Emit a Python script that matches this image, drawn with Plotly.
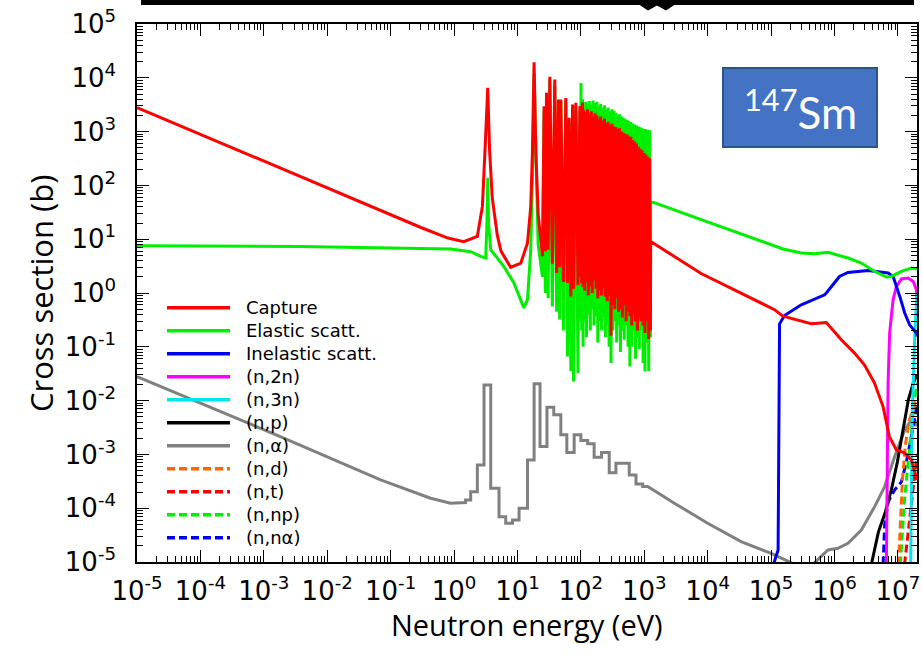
import plotly.graph_objects as go

# ---------------- cross-section data (energies in eV, cross sections in barns) ----------------
# Capture: thermal 1/v region and the two first resolved resonances
capture_low_E = [1e-5, 0.3, 0.8, 1.42, 2.33, 2.8, 3.08, 3.4, 3.63, 4.0, 4.8, 5.5, 7.8, 11.3, 14.4, 16.2, 17.2, 18.3, 19.5, 21.2]
capture_low_xs = [2800, 16.5, 10.5, 9.0, 11.3, 40.7, 462, 6500, 462, 60, 12, 6, 3.0, 3.6, 8.5, 40, 400, 19400, 400, 30]

# Elastic: thermal region and the two first resolved resonances
elastic_low_E = [1e-5, 3.78e-3, 0.88, 1.83, 2.63, 3.16, 3.3, 3.4, 3.5, 3.79, 6.08, 8.75, 12.6, 14.4, 16.2, 17.5, 18.3, 19.5, 21.2]
elastic_low_xs = [7.57, 7.35, 6.58, 5.85, 4.79, 4.47, 20, 139, 20, 6.38, 3.12, 1.55, 0.53, 0.75, 6.38, 300, 12000, 300, 8]

# Resolved-resonance forest: alternating valley / peak energies
forest_E = [24.8, 26.3, 27.5, 28.7, 30.5, 32.4, 35.5, 38.8, 41.5, 44.4, 46.3, 48.3, 53, 57.9, 61.5, 65.3,
            69.5, 74, 76.7, 83.4, 90, 96.4, 98.5, 100.5, 103, 106, 108.5, 111, 115, 119, 123, 127, 131, 136,
            141, 146, 151, 156, 161, 167, 173, 179, 185, 192, 198, 205, 212, 220, 228, 236, 244, 252, 261,
            270, 279, 289, 299, 310, 321, 332, 343, 355, 367, 380, 393, 407, 421, 436, 451, 467, 483, 500,
            517, 535, 554, 573, 593, 614, 635, 657, 680, 704, 729, 754, 780, 807, 835, 864, 894, 925, 958,
            991, 1026, 1061, 1098, 1136, 1175, 1216, 1250]
forest_capture = [4.8, 2960, 6, 5250, 6.4, 10400, 3.5, 9270, 2.35, 3940, 3.0, 3940, 1.6, 4230, 1.53, 1800,
                  0.86, 3180, 1.2, 3420, 1.4, 2960, 2.0, 3000, 1.5, 3470, 1.3, 2500, 1.1, 2300, 1.6, 2600, 0.9, 2100,
                  1.3, 2400, 1.0, 1900, 1.7, 2200, 1.2, 2000, 0.8, 1700, 1.1, 1900, 0.9, 1600, 1.2, 1750, 0.85, 1450, 0.7,
                  1500, 0.9, 1300, 0.16, 1400, 0.6, 1250, 0.5, 1200, 0.8, 1100, 0.45, 1150, 0.5, 1000, 0.35, 950, 0.6, 900,
                  0.3, 880, 0.45, 820, 0.37, 800, 0.25, 700, 0.4, 650, 0.3, 600, 0.2, 520, 0.35, 480, 0.3, 450, 0.25,
                  400, 0.18, 370, 0.3, 340, 0.14, 320, 0.2]
forest_elastic = [2.0, 2500, 1.0, 4000, 0.8, 9000, 0.56, 7000, 0.45, 3000, 0.32, 3500, 0.2, 3800, 0.066, 1500,
                  0.035, 2800, 0.0226, 3000, 0.0324, 2500, 0.3, 8000, 0.2, 4000, 0.1, 3000, 0.3, 3600, 0.15, 3300, 0.4, 3700,
                  0.2, 3200, 0.5, 3800, 0.25, 3400, 0.37, 3600, 0.12, 3000, 0.3, 3300, 0.2, 2800, 0.35, 3100, 0.15, 2600, 0.25,
                  2800, 0.1, 2400, 0.05, 2600, 0.2, 2450, 0.3, 2250, 0.12, 2000, 0.25, 2100, 0.08, 1900, 0.2, 1800, 0.135, 1700,
                  0.25, 1650, 0.1, 1550, 0.043, 1500, 0.1, 1400, 0.2, 1350, 0.06, 1300, 0.15, 1250, 0.09, 1200, 0.2, 1150, 0.05,
                  1120, 0.0347, 1100, 0.12, 1080, 0.035, 1060, 0.15]

# Unresolved / fast region
capture_fast_E = [1260, 7870, 2.64e4, 1.13e5, 1.54e5, 4.3e5, 7.43e5, 1.28e6, 2.05e6, 2.96e6, 4.26e6, 5.83e6,
                  7.34e6, 9.47e6, 1.27e7, 1.63e7, 2.0e7]
capture_fast_xs = [9.1, 2.3, 1.15, 0.49, 0.37, 0.268, 0.283, 0.135, 0.0773, 0.0462, 0.0214, 7.74e-3,
                   2.14e-3, 1.21e-3, 1.07e-3, 7.9e-4, 3.36e-4]
elastic_fast_E = [1260, 7870, 2.64e4, 1.28e5, 1.54e5, 2.99e5, 4.85e5, 7.9e5, 1.63e6, 2.65e6, 4.3e6, 6.58e6,
                  7.89e6, 1.135e7, 1.63e7, 2.0e7]
elastic_fast_xs = [50.5, 23.1, 14.0, 7.16, 6.58, 5.53, 5.37, 5.69, 4.47, 3.61, 2.52, 1.98, 2.03, 2.52, 2.91, 2.79]

inelastic_E = [1.09e5, 1.2e5, 1.29e5, 1.36e5, 1.63e5, 2.99e5, 6.98e5, 7.43e5, 1.2e6, 1.63e6, 3.38e6, 7.0e6,
               8.4e6, 1.07e7, 1.28e7, 1.53e7, 1.96e7, 2.0e7]
inelastic_xs = [9e-6, 1.35e-5, 1.67e-5, 0.267, 0.381, 0.604, 0.927, 1.0, 2.03, 2.41, 2.63, 2.35, 2.03, 0.863,
                0.424, 0.256, 0.18, 0.156]

n2n_E = [6.58e6, 6.82e6, 7.0e6, 7.41e6, 8.39e6, 9.46e6, 1.135e7, 1.45e7, 1.74e7, 1.96e7, 2.0e7]
n2n_xs = [9e-6, 1.21e-3, 0.0211, 0.182, 0.748, 1.32, 1.82, 1.9, 1.64, 1.15, 0.75]

n3n_E = [1.59e7, 1.68e7, 1.85e7, 2.0e7]
n3n_xs = [9e-6, 5.0e-3, 0.18, 1.0]

np_E = [3.81e6, 4.92e6, 6.34e6, 7.88e6, 9.8e6, 1.22e7, 1.46e7, 1.75e7, 2.0e7]
np_xs = [9e-6, 3.6e-5, 8.5e-5, 2.2e-4, 7.2e-4, 2.86e-3, 0.0103, 0.0214, 0.030]

# (n,alpha): smooth 1/v part, multigroup histogram, smooth fast part
alpha_low_E = [1e-5, 1.82e-3, 0.0695, 0.427, 0.88, 1.43]
alpha_low_xs = [0.028, 2.14e-3, 3.36e-4, 1.53e-4, 1.24e-4, 1.27e-4]
alpha_group_edges = [1.43, 1.52, 1.83, 2.33, 2.97, 3.79, 5.12, 6.53, 8.34, 10.6, 14.4, 18.3, 22.7, 29.2, 37.4,
                     48.3, 60.1, 78.4, 100, 128, 162, 212, 280, 357, 579, 740, 944, 1133]
alpha_group_xs = [1.27e-4, 1.42e-4, 2.03e-4, 6.38e-4, 0.0196, 2.35e-4, 6.97e-5, 5.25e-5, 6.04e-5, 9.98e-5,
                  7.9e-4, 0.0205, 1.4e-3, 7.55e-3, 5.43e-3, 2.31e-3, 1.08e-3, 2.31e-3, 1.81e-3, 1.57e-3,
                  8.87e-4, 1.08e-3, 4.58e-4, 6.86e-4, 4.16e-4, 2.83e-4, 2.52e-4]
alpha_fast_E = [1133, 2980, 1.0e4, 3.37e4, 1.0e5, 2.08e5, 3.0e5, 4.85e5, 7.9e5, 1.13e6, 1.63e6, 2.65e6, 4.3e6,
                6.18e6, 8.9e6, 1.28e7, 1.63e7, 1.85e7, 2.0e7]
alpha_fast_xs = [2.52e-4, 1.24e-4, 5.25e-5, 2.39e-5, 1.45e-5, 9.7e-6, 6e-6, 9.7e-6, 1.67e-5, 1.8e-5, 2.23e-5,
                 3.94e-5, 1.07e-4, 2.52e-4, 9.1e-4, 2.86e-3, 4.38e-3, 4.38e-3, 3.29e-3]

nd_E = [1.02e7, 1.1e7, 1.18e7, 1.31e7, 1.52e7, 1.82e7, 2.0e7]
nd_xs = [9e-6, 6.0e-5, 3.36e-4, 1.5e-3, 4.4e-3, 8.3e-3, 0.0103]

nt_E = [1.27e7, 1.52e7, 1.75e7, 2.0e7]
nt_xs = [9e-6, 6e-5, 2.19e-4, 9.8e-4]

nnp_E = [1.09e7, 1.27e7, 1.52e7, 1.75e7, 2.0e7]
nnp_xs = [9e-6, 1.42e-4, 1.21e-3, 6.7e-3, 0.0214]

nna_E = [5.84e6, 6.18e6, 7.0e6, 8.9e6, 1.135e7, 1.36e7, 1.63e7, 1.96e7, 2.0e7]
nna_xs = [9e-6, 4.9e-5, 1.3e-4, 2.19e-4, 3.08e-4, 7.24e-4, 2.14e-3, 6.73e-3, 8.3e-3]

reaction_names = ["Capture", "Elastic scatt.", "Inelastic scatt.", "(n,2n)", "(n,3n)", "(n,p)",
                  "(n,\u03b1)", "(n,d)", "(n,t)", "(n,np)", "(n,n\u03b1)"]
reaction_colors = ["#ff0000", "#00ee00", "#0000ee", "#ff00ff", "#00e5ee", "#000000",
                   "#808080", "#ff6600", "#ff0000", "#00ee00", "#0000ee"]
reaction_dashed = [False] * 7 + [True] * 4

decade_exponents_x = list(range(-5, 8))
decade_exponents_y = list(range(-5, 6))

# ---------------- assemble curves ----------------
assert len(forest_E) == len(forest_capture) == len(forest_elastic)
assert len(alpha_group_edges) == len(alpha_group_xs) + 1

capture_E = capture_low_E + forest_E + capture_fast_E
capture_xs = capture_low_xs + forest_capture + capture_fast_xs
elastic_E = elastic_low_E + forest_E + elastic_fast_E
elastic_xs = elastic_low_xs + forest_elastic + elastic_fast_xs

# histogram corners for the (n,alpha) group structure
alpha_E = list(alpha_low_E)
alpha_xs = list(alpha_low_xs)
for lo, hi, v in zip(alpha_group_edges[:-1], alpha_group_edges[1:], alpha_group_xs):
    alpha_E += [lo, hi]
    alpha_xs += [v, v]
alpha_E += alpha_fast_E
alpha_xs += alpha_fast_xs

series = {
    "Capture": (capture_E, capture_xs),
    "Elastic scatt.": (elastic_E, elastic_xs),
    "Inelastic scatt.": (inelastic_E, inelastic_xs),
    "(n,2n)": (n2n_E, n2n_xs),
    "(n,3n)": (n3n_E, n3n_xs),
    "(n,p)": (np_E, np_xs),
    "(n,\u03b1)": (alpha_E, alpha_xs),
    "(n,d)": (nd_E, nd_xs),
    "(n,t)": (nt_E, nt_xs),
    "(n,np)": (nnp_E, nnp_xs),
    "(n,n\u03b1)": (nna_E, nna_xs),
}
style = {n: (c, d) for n, c, d in zip(reaction_names, reaction_colors, reaction_dashed)}

# drawing order: minor channels first, capture on top
draw_order = ["(n,\u03b1)", "(n,n\u03b1)", "(n,np)", "(n,t)", "(n,d)", "(n,p)", "(n,2n)", "(n,3n)",
              "Inelastic scatt.", "Elastic scatt.", "Capture"]

fig = go.Figure()
for name in draw_order:
    E, xs = series[name]
    color, dashed = style[name]
    fig.add_trace(go.Scatter(
        x=E, y=xs, mode="lines", name=name, showlegend=False,
        line=dict(color=color, width=3, dash="8px,4px" if dashed else "solid"),
    ))

# ---------------- layout ----------------
W, H = 922, 664
ML, MR, MT, MB = 137, 5, 24, 102
PW, PH = W - ML - MR, H - MT - MB


def px_x(px):
    return (px - ML) / PW


def px_y(py):
    return (H - MB - py) / PH


tick_font = dict(family="DejaVu Sans", size=26, color="black")

axis_common = dict(
    type="log", showgrid=False, zeroline=False, automargin=False,
    showline=True, linecolor="black", linewidth=1.5, mirror="ticks",
    ticks="inside", ticklen=12, tickwidth=1.3, tickcolor="black",
    minor=dict(ticks="inside", ticklen=6, tickwidth=1, tickcolor="black", dtick="D1", showgrid=False),
)

fig.update_layout(
    width=W, height=H, autosize=False,
    margin=dict(l=ML, r=MR, t=MT, b=MB),
    paper_bgcolor="white", plot_bgcolor="white",
    xaxis=dict(
        axis_common, range=[-5, 7.301], tickmode="array",
        tickvals=[10.0 ** k for k in decade_exponents_x],
        ticktext=[f"10<sup>{k}</sup>" for k in decade_exponents_x],
        tickfont=tick_font, ticklabelstandoff=5,
    ),
    yaxis=dict(
        axis_common, range=[-5, 5], tickmode="array",
        tickvals=[10.0 ** k for k in decade_exponents_y],
        ticktext=[f"10<sup>{k}</sup>" for k in decade_exponents_y],
        tickfont=tick_font, ticklabelstandoff=14,
    ),
)

annotations = [
    dict(text="Neutron energy (eV)", x=0.5, y=px_y(624), xref="paper", yref="paper",
         xanchor="center", yanchor="middle", showarrow=False,
         font=dict(family="Open Sans", size=29, color="black")),
    dict(text="Cross section (b)", x=px_x(41), y=px_y(294), xref="paper", yref="paper",
         xanchor="center", yanchor="middle", textangle=-90, showarrow=False,
         font=dict(family="Open Sans", size=31, color="black")),
    dict(text="<sup>147</sup>Sm", x=px_x(800), y=px_y(110), xref="paper", yref="paper",
         xanchor="center", yanchor="middle", showarrow=False,
         font=dict(family="Lato", size=44, color="white")),
]

shapes = [
    # nuclide label box
    dict(type="rect", xref="paper", yref="paper", x0=px_x(723), x1=px_x(877), y0=px_y(147), y1=px_y(68),
         fillcolor="#4472C4", line=dict(color="#2F528F", width=2), layer="above"),
    # banner strip along the top edge
    dict(type="rect", xref="paper", yref="paper", x0=px_x(141), x1=px_x(914), y0=px_y(5), y1=px_y(0),
         fillcolor="black", line=dict(width=0)),
    dict(type="path", xref="paper", yref="paper",
         path=(f"M {px_x(639)},{px_y(4)} L {px_x(648)},{px_y(10)} L {px_x(657)},{px_y(5)} "
               f"L {px_x(666)},{px_y(10)} L {px_x(675)},{px_y(4)} Z"),
         fillcolor="black", line=dict(color="black", width=1)),
]

# legend drawn inside the frame
leg_x0, leg_x1, leg_text_x, leg_y0, leg_dy = 167, 230, 244, 307.7, 23.0
for i, (name, color, dashed) in enumerate(zip(reaction_names, reaction_colors, reaction_dashed)):
    yy = px_y(leg_y0 + i * leg_dy)
    shapes.append(dict(type="line", xref="paper", yref="paper", x0=px_x(leg_x0), x1=px_x(leg_x1),
                       y0=yy, y1=yy, line=dict(color=color, width=3.5, dash="8px,4px" if dashed else "solid")))
    annotations.append(dict(text=name, x=px_x(leg_text_x), y=yy, xref="paper", yref="paper",
                            xanchor="left", yanchor="middle", showarrow=False,
                            font=dict(family="DejaVu Sans", size=18, color="black")))

fig.update_layout(annotations=annotations, shapes=shapes)
fig.write_html("out.html")
